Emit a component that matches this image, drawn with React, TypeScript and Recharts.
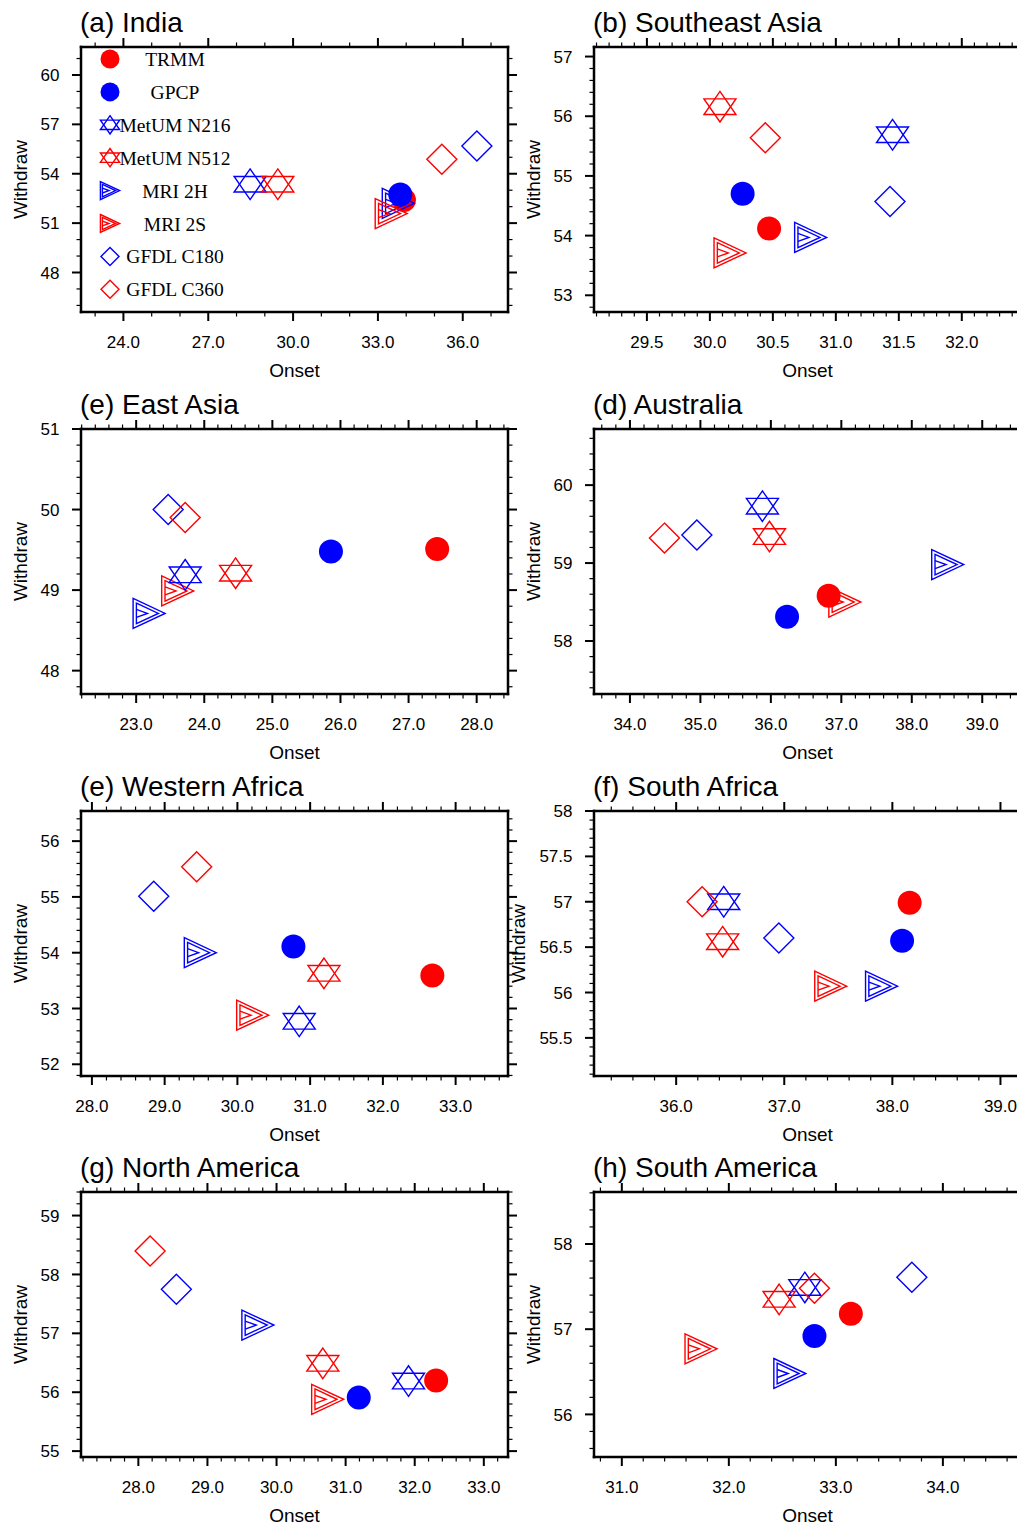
import React from 'react';
import { ScatterChart, Scatter, XAxis, YAxis, Legend } from 'recharts';

// ---- series ----
const seriesNames = ['TRMM', 'GPCP', 'MetUM N216', 'MetUM N512', 'MRI 2H', 'MRI 2S', 'GFDL C180', 'GFDL C360'];
const seriesColors = ['#ff0000', '#0000ff', '#0000ff', '#ff0000', '#0000ff', '#ff0000', '#0000ff', '#ff0000'];
const seriesMarkers = ['circle', 'circle', 'star', 'star', 'tri', 'tri', 'diamond', 'diamond'];
const drawOrder = [0, 4, 5, 2, 3, 6, 7, 1];

// ---- data (onset / withdraw, in seriesNames order) ----
const indiaOnset = [33.92, 33.79, 28.48, 29.46, 33.72, 33.47, 36.5, 35.26];
const indiaWithdraw = [52.4, 52.74, 53.36, 53.36, 52.2, 51.58, 55.69, 54.88];
const seAsiaOnset = [30.47, 30.26, 31.45, 30.08, 30.8, 30.16, 31.43, 30.44];
const seAsiaWithdraw = [54.12, 54.7, 55.69, 56.16, 53.97, 53.71, 54.57, 55.64];
const eAsiaOnset = [27.42, 25.86, 23.72, 24.46, 23.19, 23.61, 23.47, 23.72];
const eAsiaWithdraw = [49.51, 49.48, 49.19, 49.21, 48.71, 48.99, 50.0, 49.9];
const ausOnset = [36.82, 36.23, 35.88, 35.98, 38.51, 37.05, 34.95, 34.49];
const ausWithdraw = [58.58, 58.31, 59.73, 59.34, 58.98, 58.5, 59.36, 59.32];
const wAfricaOnset = [32.68, 30.77, 30.85, 31.19, 29.49, 30.21, 28.85, 29.44];
const wAfricaWithdraw = [53.59, 54.11, 52.77, 53.63, 54.0, 52.88, 55.01, 55.54];
const sAfricaOnset = [38.16, 38.09, 36.44, 36.43, 37.9, 37.43, 36.95, 36.24];
const sAfricaWithdraw = [56.99, 56.57, 57.0, 56.56, 56.07, 56.07, 56.6, 57.0];
const nAmericaOnset = [32.31, 31.19, 31.91, 30.67, 29.73, 30.74, 28.55, 28.17];
const nAmericaWithdraw = [56.2, 55.91, 56.19, 56.49, 57.14, 55.88, 57.75, 58.4];
const sAmericaOnset = [33.14, 32.8, 32.71, 32.47, 32.57, 31.74, 33.71, 32.8];
const sAmericaWithdraw = [57.18, 56.92, 57.49, 57.35, 56.48, 56.77, 57.61, 57.48];

// ---- tick labels (major) ----
const indiaXTicks = [24, 27, 30, 33, 36];
const indiaYTicks = [48, 51, 54, 57, 60];
const seAsiaXTicks = [29.5, 30, 30.5, 31, 31.5, 32];
const seAsiaYTicks = [53, 54, 55, 56, 57];
const eAsiaXTicks = [23, 24, 25, 26, 27, 28];
const eAsiaYTicks = [48, 49, 50, 51];
const ausXTicks = [34, 35, 36, 37, 38, 39];
const ausYTicks = [58, 59, 60];
const wAfricaXTicks = [28, 29, 30, 31, 32, 33];
const wAfricaYTicks = [52, 53, 54, 55, 56];
const sAfricaXTicks = [36, 37, 38, 39];
const sAfricaYTicks = [55.5, 56, 56.5, 57, 57.5, 58];
const nAmericaXTicks = [28, 29, 30, 31, 32, 33];
const nAmericaYTicks = [55, 56, 57, 58, 59];
const sAmericaXTicks = [31, 32, 33, 34];
const sAmericaYTicks = [56, 57, 58];

const FRAME_W = 427;
const FRAME_H = 265;
const PL = 101; // plot left inside chart
const PT = 47; // plot top inside chart
const CHART_W = 540;
const CHART_H = 387;
const SANS = '"Liberation Sans", Arial, Helvetica, sans-serif';
const SERIF = '"Liberation Serif", "Times New Roman", serif';

function minorTicks(min: number, max: number, step: number): number[] {
  const out: number[] = [];
  const a = Math.ceil(min / step - 1e-9);
  const b = Math.floor(max / step + 1e-9);
  for (let k = a; k <= b; k++) out.push(Math.round(k * step * 1e6) / 1e6);
  return out;
}

type PanelCfg = {
  title: string;
  frameLeft: number;
  frameTop: number;
  onset: number[];
  withdraw: number[];
  xDomain: [number, number];
  yDomain: [number, number];
  xMajor: number[];
  yMajor: number[];
  xStep: number;
  yStep: number;
  yFmt: (v: number) => string;
  yLabelGap: number;
  legend?: boolean;
};

const intFmt = (v: number) => String(Math.round(v));
const halfFmt = (v: number) => String(+v.toFixed(1));

const panels: PanelCfg[] = [
  { title: '(a) India', frameLeft: 81, frameTop: 47, onset: indiaOnset, withdraw: indiaWithdraw, xDomain: [22.5, 37.6], yDomain: [45.6, 61.7], xMajor: indiaXTicks, yMajor: indiaYTicks, xStep: 1, yStep: 1, yFmt: intFmt, yLabelGap: 54.3, legend: true },
  { title: '(b) Southeast Asia', frameLeft: 594, frameTop: 47, onset: seAsiaOnset, withdraw: seAsiaWithdraw, xDomain: [29.08, 32.47], yDomain: [52.72, 57.16], xMajor: seAsiaXTicks, yMajor: seAsiaYTicks, xStep: 0.1, yStep: 0.2, yFmt: intFmt, yLabelGap: 54.3 },
  { title: '(e) East Asia', frameLeft: 81, frameTop: 429, onset: eAsiaOnset, withdraw: eAsiaWithdraw, xDomain: [22.19, 28.46], yDomain: [47.71, 51], xMajor: eAsiaXTicks, yMajor: eAsiaYTicks, xStep: 0.2, yStep: 0.2, yFmt: intFmt, yLabelGap: 54.3 },
  { title: '(d) Australia', frameLeft: 594, frameTop: 429, onset: ausOnset, withdraw: ausWithdraw, xDomain: [33.49, 39.55], yDomain: [57.32, 60.72], xMajor: ausXTicks, yMajor: ausYTicks, xStep: 0.2, yStep: 0.2, yFmt: intFmt, yLabelGap: 54.3 },
  { title: '(e) Western Africa', frameLeft: 81, frameTop: 811, onset: wAfricaOnset, withdraw: wAfricaWithdraw, xDomain: [27.85, 33.72], yDomain: [51.79, 56.54], xMajor: wAfricaXTicks, yMajor: wAfricaYTicks, xStep: 0.2, yStep: 0.2, yFmt: intFmt, yLabelGap: 54.3 },
  { title: '(f) South Africa', frameLeft: 594, frameTop: 811, onset: sAfricaOnset, withdraw: sAfricaWithdraw, xDomain: [35.24, 39.19], yDomain: [55.08, 58], xMajor: sAfricaXTicks, yMajor: sAfricaYTicks, xStep: 0.2, yStep: 0.1, yFmt: halfFmt, yLabelGap: 69.3 },
  { title: '(g) North America', frameLeft: 81, frameTop: 1192, onset: nAmericaOnset, withdraw: nAmericaWithdraw, xDomain: [27.17, 33.35], yDomain: [54.9, 59.4], xMajor: nAmericaXTicks, yMajor: nAmericaYTicks, xStep: 0.2, yStep: 0.2, yFmt: intFmt, yLabelGap: 54.3 },
  { title: '(h) South America', frameLeft: 594, frameTop: 1192, onset: sAmericaOnset, withdraw: sAmericaWithdraw, xDomain: [30.74, 34.73], yDomain: [55.5, 58.61], xMajor: sAmericaXTicks, yMajor: sAmericaYTicks, xStep: 0.2, yStep: 0.2, yFmt: intFmt, yLabelGap: 54.3 },
];

function Marker({ kind, cx, cy, color, legend }: { kind: string; cx: number; cy: number; color: string; legend?: boolean }) {
  const s = legend ? 0.6 : 1;
  const sw = 1.4;
  if (kind === 'circle') return <circle cx={cx} cy={cy} r={legend ? 9.5 : 12} fill={color} />;
  if (kind === 'diamond') {
    const h = 15 * s;
    return <polygon points={`${cx},${cy - h} ${cx + h},${cy} ${cx},${cy + h} ${cx - h},${cy}`} fill="none" stroke={color} strokeWidth={sw} />;
  }
  if (kind === 'star') {
    const a = 15.3 * s, b = 7.8 * s, w = 16 * s;
    return (
      <g fill="none" stroke={color} strokeWidth={sw}>
        <polygon points={`${cx},${cy - a} ${cx + w},${cy + b} ${cx - w},${cy + b}`} />
        <polygon points={`${cx},${cy + a} ${cx + w},${cy - b} ${cx - w},${cy - b}`} />
      </g>
    );
  }
  // nested right-pointing triangles
  return (
    <g fill="none" stroke={color} strokeWidth={sw}>
      <polygon points={`${cx - 16 * s},${cy - 15 * s} ${cx + 16 * s},${cy} ${cx - 16 * s},${cy + 15 * s}`} />
      <polygon points={`${cx - 12.7 * s},${cy - 10.3 * s} ${cx + 9.3 * s},${cy} ${cx - 12.7 * s},${cy + 10.3 * s}`} />
      <polyline points={`${cx - 12.7 * s},${cy - 4 * s} ${cx - 1.7 * s},${cy} ${cx - 12.7 * s},${cy + 4 * s}`} />
    </g>
  );
}

const isMajor = (majors: number[], v: number) => majors.some((m) => Math.abs(m - v) < 1e-6);

function makeTick(orient: string, majors: number[], fmt?: (v: number) => string) {
  return (props: any) => {
    const { x, y, payload } = props;
    const v = payload.value as number;
    const major = isMajor(majors, v);
    const len = major ? 9 : 4.5;
    const sw = major ? 2 : 1.2;
    if (orient === 'bottom') {
      return (
        <g>
          <line x1={x} y1={y} x2={x} y2={y + len} stroke="#000" strokeWidth={sw} />
          {major && fmt ? (
            <text x={x} y={y + 35.8} textAnchor="middle" fontFamily={SANS} fontSize={17} fill="#000">{fmt(v)}</text>
          ) : null}
        </g>
      );
    }
    if (orient === 'top') return <line x1={x} y1={y} x2={x} y2={y - len} stroke="#000" strokeWidth={sw} />;
    if (orient === 'left') {
      return (
        <g>
          <line x1={x} y1={y} x2={x - len} y2={y} stroke="#000" strokeWidth={sw} />
          {major && fmt ? (
            <text x={x - 21.5} y={y} dy="0.36em" textAnchor="end" fontFamily={SANS} fontSize={17} fill="#000">{fmt(v)}</text>
          ) : null}
        </g>
      );
    }
    return <line x1={x} y1={y} x2={x + len} y2={y} stroke="#000" strokeWidth={sw} />;
  };
}

function TitleLabel({ text }: { text: string }) {
  return (
    <text x={PL - 1} y={PT - 15.5} fontFamily={SANS} fontSize={28} fill="#000">{text}</text>
  );
}
function XTitle() {
  return (
    <text x={PL + FRAME_W / 2} y={PT + FRAME_H + 64.5} textAnchor="middle" fontFamily={SANS} fontSize={19} fill="#000">Onset</text>
  );
}
function YTitle({ gap }: { gap: number }) {
  const x = PL - gap;
  const y = PT + FRAME_H / 2;
  return (
    <text x={x} y={y} transform={`rotate(-90 ${x} ${y})`} textAnchor="middle" fontFamily={SANS} fontSize={19} fill="#000">Withdraw</text>
  );
}

const legendContent = () => (
  <svg width={180} height={262} style={{ display: 'block', overflow: 'visible' }}>
    {seriesNames.map((n, i) => {
      const cy = 19 + i * 32.9;
      return (
        <g key={n}>
          <Marker kind={seriesMarkers[i]} cx={20} cy={cy} color={seriesColors[i]} legend />
          <text x={85} y={cy + 7} textAnchor="middle" fontFamily={SERIF} fontSize={19.5} fill="#000">{n}</text>
        </g>
      );
    })}
  </svg>
);

const axisLine = { stroke: '#000', strokeWidth: 2.5, strokeLinecap: 'square' as const };

function Panel({ cfg }: { cfg: PanelCfg }) {
  const xt = minorTicks(cfg.xDomain[0], cfg.xDomain[1], cfg.xStep);
  const yt = minorTicks(cfg.yDomain[0], cfg.yDomain[1], cfg.yStep);
  const xFmt = (v: number) => v.toFixed(1);
  return (
    <div style={{ position: 'absolute', left: cfg.frameLeft - PL, top: cfg.frameTop - PT }}>
      <ScatterChart width={CHART_W} height={CHART_H} margin={{ top: PT - 10, left: PL - 60, right: CHART_W - PL - FRAME_W - 10, bottom: CHART_H - PT - FRAME_H - 40 }}>
        <XAxis xAxisId="b" dataKey="x" type="number" orientation="bottom" height={40} domain={cfg.xDomain} allowDataOverflow ticks={xt} interval={0} tickSize={0} tickMargin={0} tickLine={false} axisLine={axisLine} tick={makeTick('bottom', cfg.xMajor, xFmt)} label={<XTitle />} />
        <XAxis xAxisId="t" dataKey="x" type="number" orientation="top" height={10} domain={cfg.xDomain} allowDataOverflow ticks={xt} interval={0} tickSize={0} tickMargin={0} tickLine={false} axisLine={axisLine} tick={makeTick('top', cfg.xMajor)} label={<TitleLabel text={cfg.title} />} />
        <YAxis yAxisId="l" dataKey="y" type="number" orientation="left" width={60} domain={cfg.yDomain} allowDataOverflow ticks={yt} interval={0} tickSize={0} tickMargin={0} tickLine={false} axisLine={axisLine} tick={makeTick('left', cfg.yMajor, cfg.yFmt)} label={<YTitle gap={cfg.yLabelGap} />} />
        <YAxis yAxisId="r" dataKey="y" type="number" orientation="right" width={10} domain={cfg.yDomain} allowDataOverflow ticks={yt} interval={0} tickSize={0} tickMargin={0} tickLine={false} axisLine={axisLine} tick={makeTick('right', cfg.yMajor)} />
        {drawOrder.map((i) => (
          <Scatter
            key={seriesNames[i]}
            name={seriesNames[i]}
            xAxisId="b"
            yAxisId="l"
            data={[{ x: cfg.onset[i], y: cfg.withdraw[i] }]}
            fill={seriesColors[i]}
            isAnimationActive={false}
            shape={(p: any) => <Marker kind={seriesMarkers[i]} cx={p.cx} cy={p.cy} color={seriesColors[i]} />}
          />
        ))}
        {cfg.legend ? (
          <Legend layout="vertical" align="center" verticalAlign="middle" content={legendContent} wrapperStyle={{ left: PL + 9, top: 40, width: 180, height: 262 }} />
        ) : null}
      </ScatterChart>
    </div>
  );
}

export default function App() {
  return (
    <div style={{ position: 'absolute', left: 0, top: 0, width: 1017, height: 1526, overflow: 'hidden', background: '#fff' }}>
      {panels.map((p) => (
        <Panel key={p.title} cfg={p} />
      ))}
    </div>
  );
}
